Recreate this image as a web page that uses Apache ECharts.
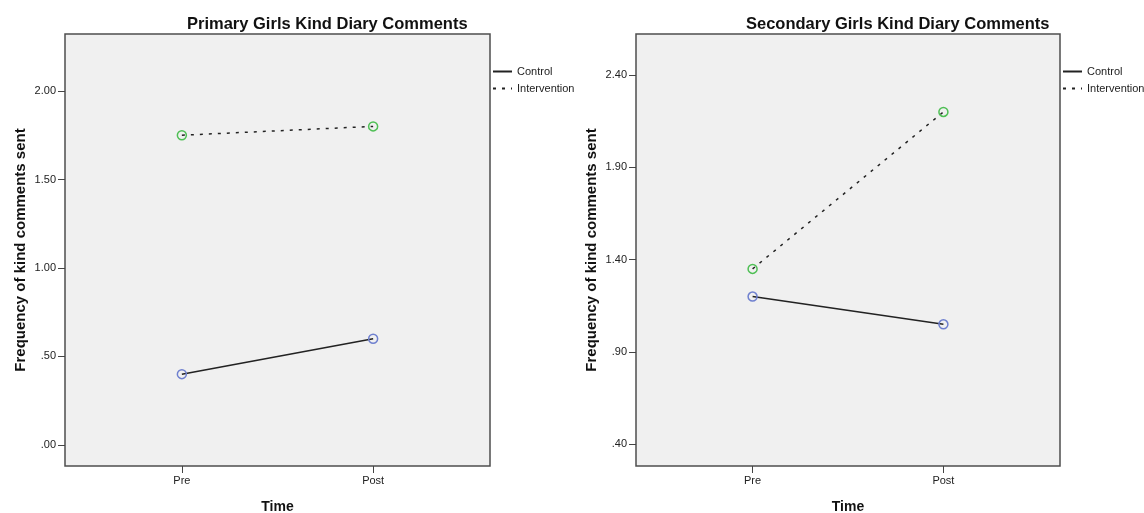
<!DOCTYPE html>
<html>
<head>
<meta charset="utf-8">
<script src="https://cdn.jsdelivr.net/npm/echarts@6/dist/echarts.min.js"></script>
<style>
html,body{margin:0;padding:0;background:#fff;}
#chart{width:1144px;height:513px;}
</style>
</head>
<body>
<div id="chart"></div>
<script>
var categories = ['Pre', 'Post'];
var primaryControl = [0.40, 0.60];
var primaryIntervention = [1.75, 1.80];
var secondaryControl = [1.20, 1.05];
var secondaryIntervention = [1.35, 2.20];
var primaryYTicks = [0, 0.5, 1, 1.5, 2];
var secondaryYTicks = [0.4, 0.9, 1.4, 1.9, 2.4];
var titles = ['Primary Girls Kind Diary Comments', 'Secondary Girls Kind Diary Comments'];
var yName = 'Frequency of kind comments sent';
var xName = 'Time';

var FONT = '"Liberation Sans", Arial, sans-serif';
var CONTROL_COLOR = '#6f80cf';
var INTERV_COLOR = '#4fbf55';

function toPts(arr) { return arr.map(function (v, i) { return [i, v]; }); }
function yFmt(v) { var s = (+v).toFixed(2); return s.charAt(0) === '0' ? s.slice(1) : s; }

function xAxisCfg(gi) {
  return {
    type: 'value', gridIndex: gi, min: -0.611, max: 1.611,
    name: xName, nameLocation: 'middle', nameGap: 34,
    nameTextStyle: { fontFamily: FONT, fontWeight: 'bold', fontSize: 14, color: '#111' },
    axisLine: { show: false, onZero: false },
    axisTick: { show: true, length: 7, inside: false, customValues: [0, 1], lineStyle: { color: '#444', width: 1 } },
    axisLabel: { customValues: [0, 1], margin: 9, fontFamily: FONT, fontSize: 11, color: '#222',
      formatter: function (v) { return categories[Math.round(v)]; } },
    splitLine: { show: false }
  };
}
function yAxisCfg(gi, min, max, ticks) {
  return {
    type: 'value', gridIndex: gi, min: min, max: max,
    name: yName, nameLocation: 'middle', nameGap: 37, nameRotate: 90,
    nameTextStyle: { fontFamily: FONT, fontWeight: 'bold', fontSize: 15, color: '#111' },
    axisLine: { show: false, onZero: false },
    axisTick: { show: true, length: 7, customValues: ticks, lineStyle: { color: '#444', width: 1 } },
    axisLabel: { customValues: ticks, margin: 9, fontFamily: FONT, fontSize: 11, color: '#222', formatter: yFmt },
    splitLine: { show: false }
  };
}
function seriesCfg(name, gi, data, color, dashed) {
  return {
    name: name, type: 'line', xAxisIndex: gi, yAxisIndex: gi, data: toPts(data),
    symbol: 'circle', symbolSize: 9,
    itemStyle: { color: 'rgba(0,0,0,0)', borderColor: color, borderWidth: 1.5 },
    lineStyle: { color: '#222', width: 1.5, type: dashed ? [3, 6] : 'solid' },
    emphasis: { disabled: true }, z: 3
  };
}
function legendCfg(left) {
  return {
    data: ['Control', 'Intervention'], orient: 'vertical', left: left, top: 66, padding: 0,
    itemWidth: 19, itemHeight: 10, itemGap: 6, selectedMode: false,
    itemStyle: { borderWidth: 0, color: 'rgba(0,0,0,0)' },
    textStyle: { fontFamily: FONT, fontSize: 11, color: '#222', padding: 0 }
  };
}
function gridCfg(left, width) {
  return { left: left, top: 34, width: width, height: 432, show: true, containLabel: false,
    outerBoundsMode: 'none', backgroundColor: '#f0f0f0', borderColor: '#4d4d4d', borderWidth: 1.5 };
}

var chart = echarts.init(document.getElementById('chart'));
chart.setOption({
  animation: false,
  backgroundColor: '#fff',
  title: [
    { text: titles[0], left: 182, top: 11, textStyle: { fontFamily: FONT, fontWeight: 'bold', fontSize: 16.5, color: '#111' } },
    { text: titles[1], left: 741, top: 11, textStyle: { fontFamily: FONT, fontWeight: 'bold', fontSize: 16.5, color: '#111' } }
  ],
  legend: [legendCfg(492), legendCfg(1062)],
  grid: [gridCfg(65, 425), gridCfg(636, 424)],
  xAxis: [xAxisCfg(0), xAxisCfg(1)],
  yAxis: [yAxisCfg(0, -0.119, 2.322, primaryYTicks), yAxisCfg(1, 0.2825, 2.622, secondaryYTicks)],
  series: [
    seriesCfg('Control', 0, primaryControl, CONTROL_COLOR, false),
    seriesCfg('Intervention', 0, primaryIntervention, INTERV_COLOR, true),
    seriesCfg('Control', 1, secondaryControl, CONTROL_COLOR, false),
    seriesCfg('Intervention', 1, secondaryIntervention, INTERV_COLOR, true)
  ]
});
</script>
</body>
</html>
